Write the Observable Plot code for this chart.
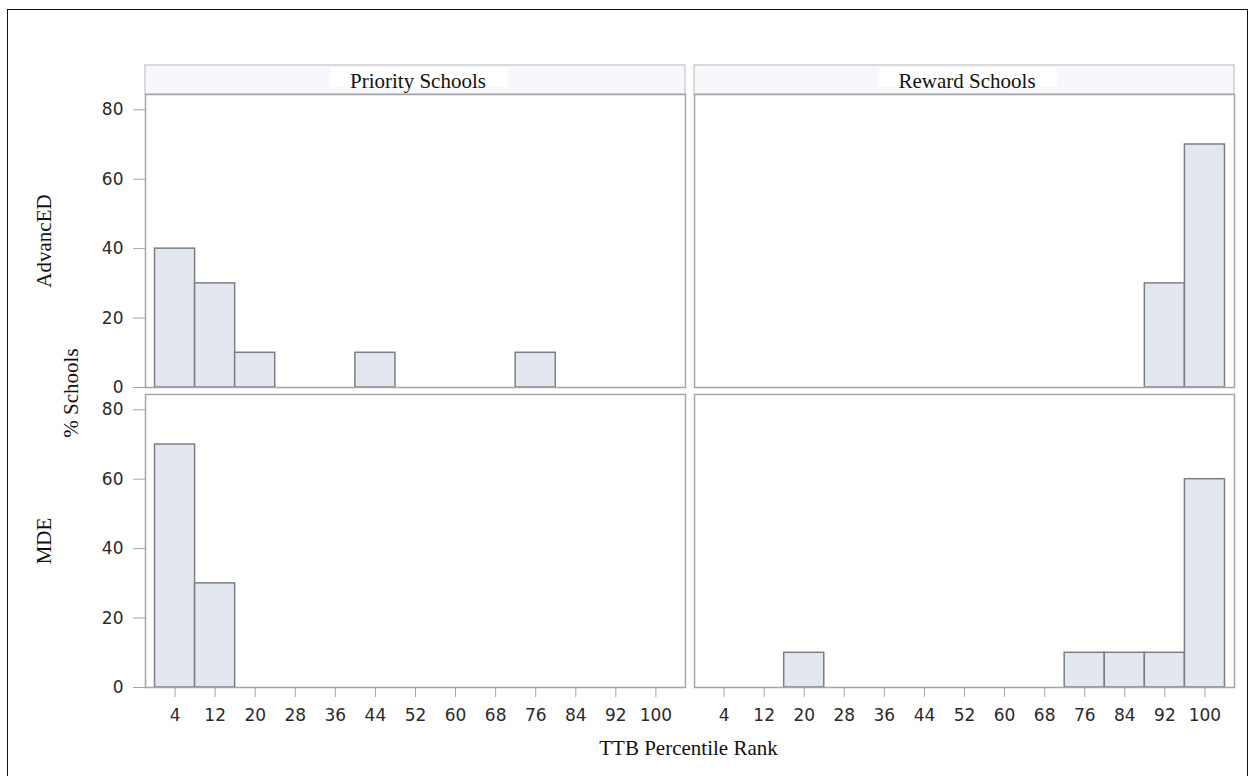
<!DOCTYPE html>
<html>
<head>
<meta charset="utf-8">
<script src="https://cdn.jsdelivr.net/npm/d3@7"></script>
<script src="https://cdn.jsdelivr.net/npm/@observablehq/plot@0.6"></script>
<style>
  html, body { margin: 0; padding: 0; background: #fff; }
  #wrap { position: relative; width: 1255px; height: 776px; overflow: hidden; }
  #border { position: absolute; left: 7px; top: 9px; width: 1241px; height: 800px;
            border: 1.5px solid #111; box-sizing: border-box; }
  .title { position: absolute; font-family: "Liberation Serif", "Times New Roman", serif;
           font-size: 21px; color: #111; white-space: nowrap; line-height: 1; }
  #xtitle { left: 0; width: 1377px; text-align: center; top: 738px; }
  #ytitle { left: 71px; top: 393px; transform: translate(-50%, -50%) rotate(-90deg); }
  svg { position: absolute; left: 0; top: 0; }
</style>
</head>
<body>
<div id="wrap">
  <div id="border"></div>
  <div id="chart"></div>
  <div class="title" id="xtitle">TTB Percentile Rank</div>
  <div class="title" id="ytitle">% Schools</div>
</div>
<script>
// ---- data ----
const panels = ["Priority Schools", "Reward Schools"];
const rows = ["AdvancED", "MDE"];
const binMids = [4, 12, 20, 28, 36, 44, 52, 60, 68, 76, 84, 92, 100];
const yTicks = [0, 20, 40, 60, 80];
const priorityAdvancED = [40, 30, 10, 0, 0, 10, 0, 0, 0, 10, 0, 0, 0];
const rewardAdvancED   = [0, 0, 0, 0, 0, 0, 0, 0, 0, 0, 0, 30, 70];
const priorityMDE      = [70, 30, 0, 0, 0, 0, 0, 0, 0, 0, 0, 0, 0];
const rewardMDE        = [0, 0, 10, 0, 0, 0, 0, 0, 0, 10, 10, 10, 60];
const binWidth = 8;

const series = [
  {panel: panels[0], row: rows[0], values: priorityAdvancED},
  {panel: panels[1], row: rows[0], values: rewardAdvancED},
  {panel: panels[0], row: rows[1], values: priorityMDE},
  {panel: panels[1], row: rows[1], values: rewardMDE}
];
const bars = series.flatMap(s => s.values.map((v, i) => ({
  panel: s.panel, row: s.row, mid: binMids[i], value: v
}))).filter(d => d.value > 0);

const xDomain = [-1.9, 105.9];
const yDomain = [0, 84.4];
const headerTop = 92.75;
const headers = panels.map(p => ({panel: p, row: rows[0]}));
const rowLabels = rows.map(r => ({panel: panels[0], row: r}));

const xMid = (xDomain[0] + xDomain[1]) / 2;

const chart = Plot.plot({
  width: 1255,
  height: 776,
  marginLeft: 145,
  marginRight: 21,
  marginTop: 94,
  marginBottom: 89,
  style: {background: "transparent", overflow: "visible"},
  fx: {domain: panels, paddingInner: 0.0165, paddingOuter: 0, round: false, axis: null},
  fy: {domain: rows, paddingInner: 0.0233, paddingOuter: 0, round: false, axis: null},
  x: {domain: xDomain},
  y: {domain: yDomain},
  marks: [
    // header strips
    Plot.rect(headers, {fx: "panel", fy: "row", x1: xDomain[0], x2: xDomain[1],
      y1: yDomain[1], y2: headerTop, fill: "#f6f8fc", stroke: "#cfcfcf", strokeWidth: 1.5}),
    Plot.rect(headers, {fx: "panel", fy: "row", x1: xMid - 17, x2: xMid + 18.5,
      y1: yDomain[1] + 2, y2: headerTop - 0.8, fill: "#ffffff"}),
    Plot.text(headers, {fx: "panel", fy: "row", x: xMid + 0.5, y: (yDomain[1] + headerTop) / 2,
      dy: 1, text: "panel", fontFamily: "Liberation Serif", fontSize: 21, fill: "#111"}),
    // row labels
    Plot.text(rowLabels, {fx: "panel", fy: "row", frameAnchor: "left", textAnchor: "middle",
      dx: -101.5, rotate: -90, text: "row", fontFamily: "Liberation Serif", fontSize: 21, fill: "#111"}),
    // bars
    Plot.rect(bars, {fx: "panel", fy: "row", x1: d => d.mid - binWidth / 2, x2: d => d.mid + binWidth / 2,
      y1: 0, y2: "value", fill: "#e2e7f0", stroke: "#7d7f83", strokeWidth: 1.5}),
    Plot.frame({stroke: "#a3a5a8", strokeWidth: 1.5}),
    Plot.axisY({ticks: yTicks, tickSize: 12, tickPadding: 10, label: null, fontSize: 17,
      fontFamily: "DejaVu Sans", stroke: "#a3a5a8", fill: "#2a2a2a"}),
    Plot.axisX({ticks: binMids, tickSize: 10, tickPadding: 11, label: null, fontSize: 17,
      fontFamily: "DejaVu Sans", stroke: "#a3a5a8", fill: "#2a2a2a"})
  ]
});
document.getElementById("chart").appendChild(chart);
</script>
</body>
</html>
